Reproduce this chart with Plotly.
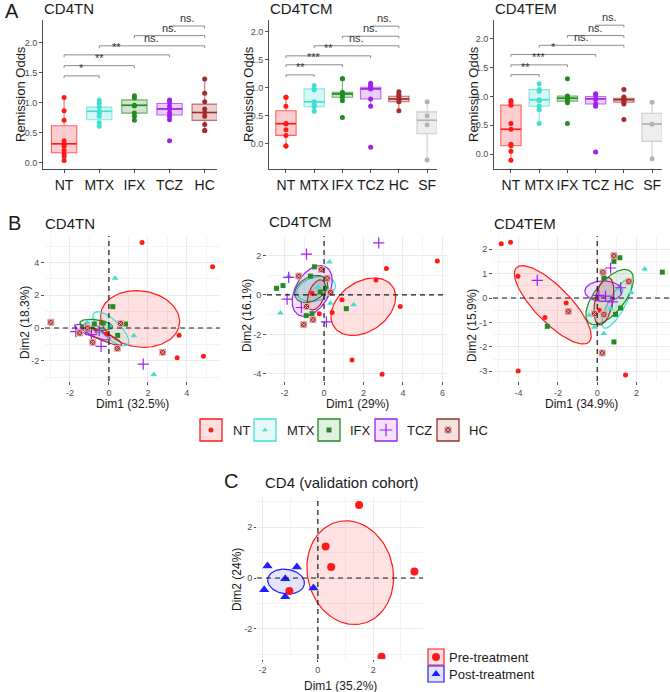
import numpy as np
import plotly.graph_objects as go

W, H = 670, 692
FONT = "Liberation Sans, Arial, sans-serif"

COLORS = {'NT': '#FF1A1A', 'MTX': '#40E0D0', 'IFX': '#228B22', 'TCZ': '#A020F0',
          'HC': '#A52A2A', 'SF': '#B3B3B3'}
SYMBOLS = {'NT': 'circle', 'MTX': 'triangle-up', 'IFX': 'square', 'TCZ': 'cross-thin-open',
           'HC': 'square-x'}

# ---------------- Panel A data (Remission Odds) ----------------
TN_CATS = ['NT', 'MTX', 'IFX', 'TCZ', 'HC']
TN_POINTS = [
    [1.09, 0.87, 0.71, 0.37, 0.32, 0.28, 0.21, 0.15, 0.11, 0.04],
    [1.05, 0.99, 0.93, 0.86, 0.83, 0.78, 0.67, 0.61],
    [1.12, 1.08, 0.96, 0.95, 0.83, 0.78, 0.71],
    [1.05, 1.02, 0.95, 0.90, 0.83, 0.78, 0.72, 0.37],
    [1.40, 1.16, 1.02, 0.90, 0.84, 0.78, 0.64, 0.54, 0.54],
]
TN_Q1 = [0.17, 0.72, 0.83, 0.80, 0.71]
TN_MED = [0.32, 0.86, 0.96, 0.90, 0.84]
TN_Q3 = [0.62, 0.93, 1.05, 0.99, 0.98]
TN_LO = [0.04, 0.61, 0.71, 0.72, 0.54]
TN_HI = [1.09, 1.05, 1.12, 1.05, 1.40]
TN_BR_FROM = [0, 0, 0, 1, 2, 3]
TN_BR_TO = [1, 2, 3, 4, 4, 4]
TN_BR_Y = [1.45, 1.62, 1.80, 1.95, 2.12, 2.28]
TN_BR_LABEL = ['*', '**', '**', 'ns.', 'ns.', 'ns.']

TCM_CATS = ['NT', 'MTX', 'IFX', 'TCZ', 'HC', 'SF']
TCM_POINTS = [
    [0.83, 0.83, 0.67, 0.36, 0.36, 0.25, 0.15, -0.04, -0.04],
    [1.04, 0.98, 0.96, 0.75, 0.70, 0.66, 0.58],
    [1.16, 1.16, 0.92, 0.89, 0.88, 0.83, 0.77, 0.47],
    [1.08, 1.04, 1.01, 0.98, 0.80, 0.67, -0.06],
    [0.93, 0.88, 0.85, 0.80, 0.80, 0.75, 0.59],
    [0.75, 0.50, 0.34, -0.29],
]
TCM_Q1 = [0.15, 0.66, 0.83, 0.80, 0.75, 0.18]
TCM_MED = [0.36, 0.75, 0.89, 0.98, 0.80, 0.42]
TCM_Q3 = [0.59, 0.98, 0.92, 1.01, 0.85, 0.57]
TCM_LO = [-0.04, 0.58, 0.77, 0.67, 0.59, -0.29]
TCM_HI = [0.83, 1.04, 1.16, 1.08, 0.93, 0.75]
TCM_BR_FROM = [0, 0, 0, 1, 2, 3]
TCM_BR_TO = [1, 2, 3, 4, 4, 4]
TCM_BR_Y = [1.23, 1.41, 1.57, 1.75, 1.92, 2.10]
TCM_BR_LABEL = ['**', '***', '**', 'ns.', 'ns.', 'ns.']

TEM_CATS = ['NT', 'MTX', 'IFX', 'TCZ', 'HC', 'SF']
TEM_POINTS = [
    [0.93, 0.90, 0.85, 0.53, 0.43, 0.17, 0.145, 0.05, -0.11],
    [1.22, 1.12, 1.09, 0.945, 0.92, 0.83, 0.77, 0.53],
    [1.31, 1.01, 1.00, 0.97, 0.95, 0.92, 0.89, 0.53],
    [1.05, 1.03, 0.96, 0.95, 0.87, 0.83, 0.035],
    [1.12, 0.99, 0.97, 0.945, 0.93, 0.90, 0.87, 0.60],
    [0.90, 0.52, -0.08],
]
TEM_Q1 = [0.145, 0.83, 0.92, 0.87, 0.90, 0.22]
TEM_MED = [0.43, 0.945, 0.97, 0.96, 0.945, 0.52]
TEM_Q3 = [0.85, 1.12, 1.01, 1.00, 0.97, 0.71]
TEM_LO = [-0.11, 0.53, 0.89, 0.83, 0.87, -0.08]
TEM_HI = [0.93, 1.22, 1.01, 1.05, 0.99, 0.90]
TEM_BR_FROM = [0, 0, 0, 1, 2, 3]
TEM_BR_TO = [1, 2, 3, 4, 4, 4]
TEM_BR_Y = [1.38, 1.55, 1.73, 1.89, 2.06, 2.24]
TEM_BR_LABEL = ['**', '***', '*', 'ns.', 'ns.', 'ns.']

# ---------------- Panel B data (PCA individuals) ----------------
PCA_TN = {
    'NT': ([1.70, 5.32, 3.60, 3.50, 4.85, -0.38, -1.15, -0.60, -0.10],
           [5.21, 3.73, -0.44, -1.82, -1.72, 0.32, -0.05, -0.20, -0.35]),
    'MTX': ([0.32, 1.28, 2.30, -1.12, 0.05, -0.50], [3.03, -0.47, -2.83, 0.33, 0.10, -0.25]),
    'IFX': ([0.20, 0.85, 0.45, -0.75, -1.30, -0.30, -1.00], [1.30, 0.24, -0.45, 0.24, 0.05, 0.30, -0.10]),
    'TCZ': ([1.76, -0.40, -1.70, -1.20, -0.50, -0.90], [-2.20, -1.12, -0.22, -0.05, -0.15, -0.40]),
    'HC': ([-2.98, 0.60, 0.43, 2.76, -0.83, -1.50, -1.10], [0.35, 0.28, -1.24, -1.48, -0.87, -0.30, 0.00]),
}
PCA_TCM = {
    'NT': ([5.74, 3.16, 2.63, 3.86, 0.91, 0.41, -0.24, 1.42, 2.94, -0.61],
           [1.72, 1.34, 0.75, -0.59, -0.25, -0.89, -0.95, -3.30, -4.02, 0.08]),
    'MTX': ([0.27, 1.50, -2.21, -1.79, 0.32, 0.15, -0.30], [1.67, -0.50, -0.92, 0.95, -0.42, 0.25, 0.40]),
    'IFX': ([-2.41, -2.08, -0.49, 1.13, -0.61, -0.19, -0.69, 0.10, -0.90],
            [0.33, 0.47, 1.42, -0.70, -0.95, 0.15, 0.95, 0.33, -1.05]),
    'TCZ': ([2.77, -0.89, -1.79, -1.87, 0.12, -1.15], [2.63, 2.06, 0.89, -0.22, -1.37, -0.64]),
    'HC': ([-0.14, -1.28, -1.03, -0.56, -0.89, 0.15, 0.32], [1.29, 0.95, -1.51, -1.26, -0.59, 0.84, 0.13]),
}
PCA_TEM = {
    'NT': ([-4.88, -4.41, -4.03, -2.66, -1.58, -4.02, 1.44, 0.10],
           [2.22, 2.28, 0.89, -0.80, -0.20, -2.99, -3.15, -0.50]),
    'MTX': ([2.41, 1.73, -0.14, 0.34, 0.68, 1.19, -0.39], [1.19, 0.23, -1.20, -1.45, -0.44, 0.38, -0.71]),
    'IFX': ([3.31, 1.15, 0.85, -2.54, 0.85, 1.19, 0.93, 0.34], [1.06, 1.65, 1.50, -1.16, -1.80, -0.41, -0.67, 0.82]),
    'TCZ': ([-3.05, 0.68, 0.42, 1.19, 0.76, 0.08], [0.72, 1.23, 0.08, 0.42, -0.16, 0.11]),
    'HC': ([0.85, 1.61, -1.47, 0.25, 0.29, 0.34, -0.14], [1.73, 0.68, -0.55, -2.25, 1.06, -0.68, -0.64]),
}
# ellipses: centre x, centre y, semi-axis a, semi-axis b, rotation (deg)
ELL_TN = {'NT': (1.6, 0.55, 2.05, 1.7, -15), 'MTX': (0.1, -0.05, 1.3, 0.5, -50),
          'IFX': (-0.65, 0.2, 0.85, 0.3, -10), 'TCZ': (-0.85, -0.25, 1.0, 0.25, -25),
          'HC': (-0.4, -0.45, 1.2, 0.25, -28)}
ELL_TCM = {'NT': (1.99, -0.6, 1.8, 1.25, 35), 'MTX': (-0.4, 0.3, 1.0, 0.6, 15),
           'IFX': (-0.65, 0.3, 0.9, 0.6, 30), 'TCZ': (-0.6, 0.2, 1.4, 0.85, 60),
           'HC': (-0.38, 0.0, 0.8, 0.4, 70)}
ELL_TEM = {'NT': (-2.26, -0.28, 2.4, 0.8, -38), 'MTX': (1.0, -0.23, 1.2, 0.4, 55),
           'IFX': (0.63, 0.04, 1.5, 0.7, 42), 'TCZ': (0.32, 0.28, 0.95, 0.42, 0),
           'HC': (0.34, -0.13, 1.0, 0.45, 75)}

# ---------------- Panel C data ----------------
PRE_X = [1.49, 0.28, 0.48, 3.49, -1.03, 2.30]
PRE_Y = [2.87, 1.24, 0.43, 0.26, -0.51, -3.09]
POST_X = [-1.82, -0.76, -1.18, -1.94, -1.18, -0.16]
POST_Y = [0.47, 0.43, -0.03, -0.46, -0.74, -0.39]
ELL_PRE = (1.17, 0.21, 2.05, 1.55, 100)
ELL_POST = (-1.15, -0.14, 0.67, 0.48, -10)


def rgba(h, a):
    h = h.lstrip('#')
    return 'rgba(%d,%d,%d,%.3f)' % (int(h[0:2], 16), int(h[2:4], 16), int(h[4:6], 16), a)


def PX(p):
    return p / W


def PY(p):
    return 1 - p / H


def ellipse(params, n=120):
    cx, cy, a, b, th = params
    t = np.linspace(0, 2 * np.pi, n)
    th = np.deg2rad(th)
    x = cx + a * np.cos(t) * np.cos(th) - b * np.sin(t) * np.sin(th)
    y = cy + a * np.cos(t) * np.sin(th) + b * np.sin(t) * np.cos(th)
    return x, y


fig = go.Figure()
layout = dict(width=W, height=H, margin=dict(l=0, r=0, t=0, b=0, autoexpand=False),
              paper_bgcolor='white', plot_bgcolor='rgba(0,0,0,0)',
              font=dict(family=FONT, color='#1A1A1A'), showlegend=False)
annotations = []
shapes = []


def ann(x, y, text, size, xanchor='left', yanchor='middle', angle=0, color='#1A1A1A', xref='paper', yref='paper'):
    annotations.append(dict(x=x, y=y, xref=xref, yref=yref, text=text, showarrow=False,
                            font=dict(size=size, color=color, family=FONT),
                            xanchor=xanchor, yanchor=yanchor, textangle=angle))


def key(prefix, n):
    return prefix if n == 1 else prefix + str(n)


BOXW = 0.72


def box_panel(n, cats, points, q1, med, q3, lo, hi, bfrom, bto, by, blab, xpx, ypx, yr):
    xa, ya = key('x', n), key('y', n)
    for i, c in enumerate(cats):
        col = COLORS[c]
        fig.add_trace(go.Box(x=[i], q1=[q1[i]], median=[med[i]], q3=[q3[i]], lowerfence=[lo[i]],
                             upperfence=[hi[i]], width=BOXW, whiskerwidth=0, boxpoints=False,
                             fillcolor=rgba(col, 0.22), line=dict(color=rgba(col, 0.65), width=1.1),
                             xaxis=xa, yaxis=ya, hoverinfo='skip'))
        fig.add_trace(go.Scatter(x=[i - BOXW / 2, i + BOXW / 2], y=[med[i], med[i]], mode='lines',
                                 line=dict(color=col, width=1.6), xaxis=xa, yaxis=ya, hoverinfo='skip'))
        fig.add_trace(go.Scatter(x=[i] * len(points[i]), y=points[i], mode='markers',
                                 marker=dict(color=col, size=5), xaxis=xa, yaxis=ya, hoverinfo='skip'))
    tick = 0.04
    for f, t, yv, lab in zip(bfrom, bto, by, blab):
        fig.add_trace(go.Scatter(x=[f, f, t, t], y=[yv - tick, yv, yv, yv - tick], mode='lines',
                                 line=dict(color='#8C8C8C', width=1), xaxis=xa, yaxis=ya, hoverinfo='skip'))
        ann((f + t) / 2, yv, lab, 11, xanchor='center', yanchor='bottom',
            color='#333333', xref=xa, yref=ya)
    ncat = len(cats)
    left, right = xpx
    layout['xaxis' + ('' if n == 1 else str(n))] = dict(
        domain=[PX(left), PX(right)], range=[-0.6, ncat - 0.65], anchor=ya, automargin=False,
        tickvals=list(range(ncat)), ticktext=cats, tickangle=0, showline=True, linecolor='#4D4D4D',
        linewidth=1, ticks='outside', ticklen=3, tickcolor='#4D4D4D',
        tickfont=dict(size=14, color='#1A1A1A'), showgrid=False, zeroline=False)
    layout['yaxis' + ('' if n == 1 else str(n))] = dict(
        domain=[PY(ypx[1]), PY(ypx[0])], range=yr, anchor=xa, automargin=False,
        tickvals=[0, 0.5, 1, 1.5, 2], ticktext=['0.0', '0.5', '1.0', '1.5', '2.0'],
        showline=True, linecolor='#4D4D4D', linewidth=1, ticks='outside', ticklen=3,
        tickcolor='#4D4D4D', tickfont=dict(size=9, color='#4D4D4D'), showgrid=False, zeroline=False)


box_panel(1, TN_CATS, TN_POINTS, TN_Q1, TN_MED, TN_Q3, TN_LO, TN_HI,
          TN_BR_FROM, TN_BR_TO, TN_BR_Y, TN_BR_LABEL, (43, 217), (20, 169), [-0.1, 2.38])
box_panel(2, TCM_CATS, TCM_POINTS, TCM_Q1, TCM_MED, TCM_Q3, TCM_LO, TCM_HI,
          TCM_BR_FROM, TCM_BR_TO, TCM_BR_Y, TCM_BR_LABEL, (269, 437), (20, 169), [-0.45, 2.21])
box_panel(3, TEM_CATS, TEM_POINTS, TEM_Q1, TEM_MED, TEM_Q3, TEM_LO, TEM_HI,
          TEM_BR_FROM, TEM_BR_TO, TEM_BR_Y, TEM_BR_LABEL, (494, 662), (20, 169), [-0.26, 2.33])

# Panel A text
ann(PX(3), PY(11), 'A', 20)
ann(PX(42), PY(9), 'CD4TN', 15)
ann(PX(268), PY(9), 'CD4TCM', 15)
ann(PX(493), PY(9), 'CD4TEM', 15)
for xc in (20, 248, 473):
    ann(PX(xc), PY(94), 'Remission Odds', 13, xanchor='center', angle=-90)


def neg(v):
    return ('%g' % v)


def pca_axes(n, xpx, ypx, xr, yr, xt, yt, ydt_minor, xdt_minor, ticklen=3):
    xa, ya = key('x', n), key('y', n)
    common = dict(showline=False, showgrid=True, gridcolor='#EBEBEB', gridwidth=1, zeroline=False,
                  automargin=False, ticks='outside', ticklen=ticklen, tickcolor='#4D4D4D',
                  tickfont=dict(size=9, color='#4D4D4D'))
    layout['xaxis' + str(n)] = dict(domain=[PX(xpx[0]), PX(xpx[1])], range=xr, anchor=ya,
                                    tickvals=xt, ticktext=[neg(v) for v in xt], tickangle=0,
                                    minor=dict(tick0=0, dtick=xdt_minor, showgrid=True,
                                               gridcolor='#F3F3F3', gridwidth=0.6), **common)
    layout['yaxis' + str(n)] = dict(domain=[PY(ypx[1]), PY(ypx[0])], range=yr, anchor=xa,
                                    tickvals=yt, ticktext=[neg(v) for v in yt],
                                    minor=dict(tick0=0, dtick=ydt_minor, showgrid=True,
                                               gridcolor='#F3F3F3', gridwidth=0.6), **common)
    shapes.append(dict(type='line', xref=xa, yref=ya + ' domain', x0=0, x1=0, y0=0, y1=1,
                       line=dict(color='#1A1A1A', width=1.2, dash='5px,4px'), layer='above'))
    shapes.append(dict(type='line', xref=xa + ' domain', yref=ya, x0=0, x1=1, y0=0, y1=0,
                       line=dict(color='#1A1A1A', width=1.2, dash='5px,4px'), layer='above'))


def pca_panel(n, data, ells):
    xa, ya = key('x', n), key('y', n)
    for g in ['NT', 'MTX', 'IFX', 'TCZ', 'HC']:
        ex, ey = ellipse(ells[g])
        fig.add_trace(go.Scatter(x=ex, y=ey, mode='lines', fill='toself', fillcolor=rgba(COLORS[g], 0.13),
                                 line=dict(color=COLORS[g], width=1.2), xaxis=xa, yaxis=ya, hoverinfo='skip'))
    for g in ['NT', 'MTX', 'IFX', 'TCZ', 'HC']:
        px_, py_ = data[g]
        col = COLORS[g]
        if g == 'TCZ':
            mk = dict(symbol='cross-thin-open', size=8, line=dict(color=col, width=1.2), color=col)
        elif g == 'HC':
            mk = dict(symbol='square-x', size=6, color=col, line=dict(color='#E8B0B0', width=1))
        elif g == 'MTX':
            mk = dict(symbol='triangle-up', size=6, color=col, line=dict(width=0))
        elif g == 'IFX':
            mk = dict(symbol='square', size=5, color=col, line=dict(width=0))
        else:
            mk = dict(symbol='circle', size=5, color=col, line=dict(width=0))
        fig.add_trace(go.Scatter(x=px_, y=py_, mode='markers', marker=mk, xaxis=xa, yaxis=ya, hoverinfo='skip'))


pca_axes(4, (45, 220), (236, 381), [-3.28, 5.7], [-3.23, 5.61], [-2, 0, 2, 4], [-2, 0, 2, 4], 1, 1)
pca_axes(5, (267, 447), (236, 381), [-2.89, 6.23], [-4.36, 2.98], [-2, 0, 2, 4, 6], [-4, -2, 0, 2], 1, 1)
pca_axes(6, (493, 670), (236, 381), [-5.3, 3.7], [-3.4, 2.54], [-4, -2, 0, 2], [-3, -2, -1, 0, 1, 2], 0.5, 1)
pca_panel(4, PCA_TN, ELL_TN)
pca_panel(5, PCA_TCM, ELL_TCM)
pca_panel(6, PCA_TEM, ELL_TEM)

ann(PX(6), PY(223), 'B', 20)
ann(PX(43), PY(223), 'CD4TN', 15)
ann(PX(267), PY(222), 'CD4TCM', 15)
ann(PX(492), PY(223), 'CD4TEM', 15)
ann(PX(25), PY(322), 'Dim2 (18.3%)', 12, xanchor='center', angle=-90)
ann(PX(247), PY(315), 'Dim2 (16.1%)', 12, xanchor='center', angle=-90)
ann(PX(472), PY(325), 'Dim2 (15.9%)', 12, xanchor='center', angle=-90)
ann(PX(132), PY(404), 'Dim1 (32.5%)', 12, xanchor='center')
ann(PX(357), PY(404), 'Dim1 (29%)', 12, xanchor='center')
ann(PX(581), PY(404), 'Dim1 (34.9%)', 12, xanchor='center')

# Panel C
pca_axes(7, (257, 423), (497, 659), [-2.2, 3.8], [-3.18, 3.18], [-2, 0, 2], [-2, 0, 2], 1, 1, ticklen=2)
for prm, col in ((ELL_PRE, '#FF1A1A'), (ELL_POST, '#1F1FFF')):
    ex, ey = ellipse(prm)
    fig.add_trace(go.Scatter(x=ex, y=ey, mode='lines', fill='toself', fillcolor=rgba(col, 0.12),
                             line=dict(color=col, width=1.2), xaxis='x7', yaxis='y7', hoverinfo='skip'))
fig.add_trace(go.Scatter(x=PRE_X, y=PRE_Y, mode='markers', marker=dict(color='#FF1A1A', size=8),
                         xaxis='x7', yaxis='y7', hoverinfo='skip'))
fig.add_trace(go.Scatter(x=POST_X, y=POST_Y, mode='markers',
                         marker=dict(color='#1F1FFF', size=9, symbol='triangle-up'),
                         xaxis='x7', yaxis='y7', hoverinfo='skip'))
ann(PX(222), PY(481), 'C', 20)
ann(PX(341), PY(482), 'CD4 (validation cohort)', 15, xanchor='center')
ann(PX(237), PY(580), 'Dim2 (24%)', 12, xanchor='center', angle=-90)
ann(PX(340), PY(686), 'Dim1 (35.2%)', 12, xanchor='center')

# overlay axis for legend glyphs (pixel coordinates)
layout['xaxis8'] = dict(domain=[0, 1], range=[0, W], visible=False, anchor='y8', automargin=False)
layout['yaxis8'] = dict(domain=[0, 1], range=[H, 0], visible=False, anchor='x8', automargin=False)

LEG_B_GROUPS = ['NT', 'MTX', 'IFX', 'TCZ', 'HC']
LEG_B_BOX_LEFT = [200, 254, 318, 375, 437]
LEG_B_TEXT_LEFT = [231, 285, 348, 405, 467]
for g, bx, tx in zip(LEG_B_GROUPS, LEG_B_BOX_LEFT, LEG_B_TEXT_LEFT):
    col = COLORS[g]
    shapes.append(dict(type='rect', xref='paper', yref='paper', x0=PX(bx), x1=PX(bx + 22),
                       y0=PY(441), y1=PY(419), line=dict(color=col, width=1.3),
                       fillcolor=rgba(col, 0.13)))
    if g == 'TCZ':
        mk = dict(symbol='cross-thin-open', size=9, line=dict(color=col, width=1.2), color=col)
    elif g == 'HC':
        mk = dict(symbol='square-x', size=6, color=col, line=dict(color='#E8B0B0', width=1))
    else:
        mk = dict(symbol=SYMBOLS[g], size=5, color=col, line=dict(width=0))
    fig.add_trace(go.Scatter(x=[bx + 11], y=[430], mode='markers', marker=mk, xaxis='x8', yaxis='y8',
                             hoverinfo='skip'))
    ann(PX(tx), PY(430), g, 13)

LEG_C_LABELS = ['Pre-treatment', 'Post-treatment']
LEG_C_COLORS = ['#FF1A1A', '#1F1FFF']
LEG_C_SYMBOLS = ['circle', 'triangle-up']
LEG_C_TOP = [649, 666]
for lab, col, sym, top in zip(LEG_C_LABELS, LEG_C_COLORS, LEG_C_SYMBOLS, LEG_C_TOP):
    shapes.append(dict(type='rect', xref='paper', yref='paper', x0=PX(428), x1=PX(444),
                       y0=PY(top + 16), y1=PY(top), line=dict(color=col, width=1.2),
                       fillcolor=rgba(col, 0.12)))
    fig.add_trace(go.Scatter(x=[436], y=[top + 8], mode='markers', marker=dict(color=col, size=8, symbol=sym),
                             xaxis='x8', yaxis='y8', hoverinfo='skip'))
    ann(PX(447), PY(top + 8), lab, 13)

layout['annotations'] = annotations
layout['shapes'] = shapes
fig.update_layout(**layout)
fig.write_html("out.html", config={'displayModeBar': False},
               post_script="document.body.style.margin='0';document.body.style.padding='0';")
